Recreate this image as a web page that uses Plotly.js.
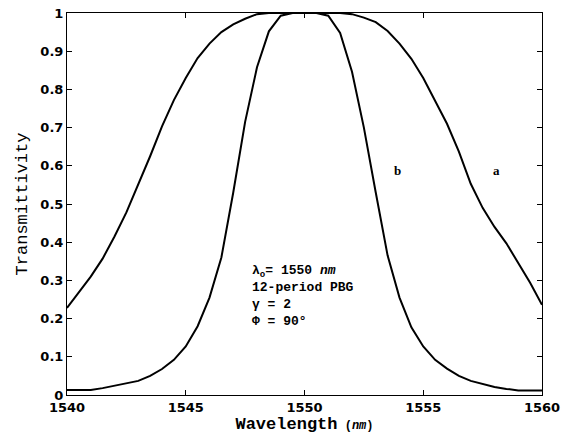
<!DOCTYPE html>
<html>
<head>
<meta charset="utf-8">
<script src="https://cdn.plot.ly/plotly-3.0.1.min.js"></script>
<style>html,body{margin:0;padding:0;background:#fff;}#chart{width:575px;height:440px;}</style>
</head>
<body>
<div id="chart"></div>
<script>
// Wavelength samples (nm)
const wavelength = [1540,1540.5,1541,1541.5,1542,1542.5,1543,1543.5,1544,1544.5,1545,1545.5,1546,1546.5,1547,1547.5,1548,1548.5,1549,1549.5,1550,1550.5,1551,1551.5,1552,1552.5,1553,1553.5,1554,1554.5,1555,1555.5,1556,1556.5,1557,1557.5,1558,1558.5,1559,1559.5,1560];
// Curve a (broad)
const curveA = [0.228,0.27,0.31,0.357,0.415,0.478,0.55,0.625,0.703,0.772,0.83,0.882,0.92,0.95,0.97,0.985,0.997,1.0,1.0,1.0,1.0,1.0,1.0,1.0,0.997,0.988,0.976,0.953,0.92,0.88,0.83,0.772,0.71,0.637,0.553,0.49,0.44,0.397,0.347,0.294,0.236];
// Curve b (narrow)
const curveB = [0.013,0.013,0.013,0.018,0.024,0.03,0.037,0.05,0.068,0.092,0.127,0.18,0.255,0.36,0.53,0.715,0.858,0.952,0.993,1.0,1.0,1.0,0.993,0.948,0.846,0.70,0.53,0.365,0.255,0.177,0.127,0.092,0.069,0.05,0.037,0.029,0.021,0.016,0.012,0.012,0.012];
const curveLabels = ["a", "b"];
const labelPos = {a: [1558.1, 0.589], b: [1553.9, 0.589]};
const infoLines = ["λ<sub>o</sub>= 1550 <i>nm</i>", "12-period PBG", "γ = 2", "Φ = 90°"];

const lineStyle = {color: "#000", width: 2};
const traces = [
  {x: wavelength, y: curveA, mode: "lines", line: lineStyle, name: "a", showlegend: false, hoverinfo: "skip"},
  {x: wavelength, y: curveB, mode: "lines", line: lineStyle, name: "b", showlegend: false, hoverinfo: "skip"}
];

const MONO = "'Liberation Mono', 'Courier New', monospace";
const tickFont = {family: "DejaVu Sans", size: 13, color: "#000", weight: "bold"};

const annotations = curveLabels.map(k => ({
  x: labelPos[k][0], y: labelPos[k][1], xref: "x", yref: "y", text: k, showarrow: false,
  font: {family: "'Liberation Serif', serif", size: 13, color: "#000", weight: "bold"}
}));
annotations.push({
  x: 1547.7, y: 0.35, xref: "x", yref: "y", xanchor: "left", yanchor: "top", align: "left",
  text: infoLines.join("<br>"), showarrow: false,
  font: {family: MONO, size: 13, color: "#000", weight: "bold"}
});

const layout = {
  width: 575, height: 440,
  margin: {l: 67, r: 33, t: 13, b: 45},
  paper_bgcolor: "#fff", plot_bgcolor: "#fff",
  showlegend: false,
  xaxis: {
    range: [1540, 1560], dtick: 5, tick0: 1540, ticks: "inside", ticklen: 5, tickcolor: "#000",
    showline: true, linecolor: "#000", linewidth: 1, mirror: "ticks", showgrid: false, zeroline: false,
    tickfont: tickFont,
    title: {text: 'Wavelength<span style="font-size:12px"> (<i>nm</i>)</span>', font: {family: MONO, size: 17, color: "#000", weight: "bold"}, standoff: 3}
  },
  yaxis: {
    range: [0, 1], dtick: 0.1, ticks: "inside", ticklen: 5, tickcolor: "#000",
    showline: true, linecolor: "#000", linewidth: 1, mirror: "ticks", showgrid: false, zeroline: false,
    tickfont: tickFont,
    title: {text: "Transmittivity", font: {family: MONO, size: 17, color: "#000"}, standoff: 8}
  },
  annotations: annotations
};

Plotly.newPlot("chart", traces, layout, {staticPlot: true, displayModeBar: false});
</script>
</body>
</html>
